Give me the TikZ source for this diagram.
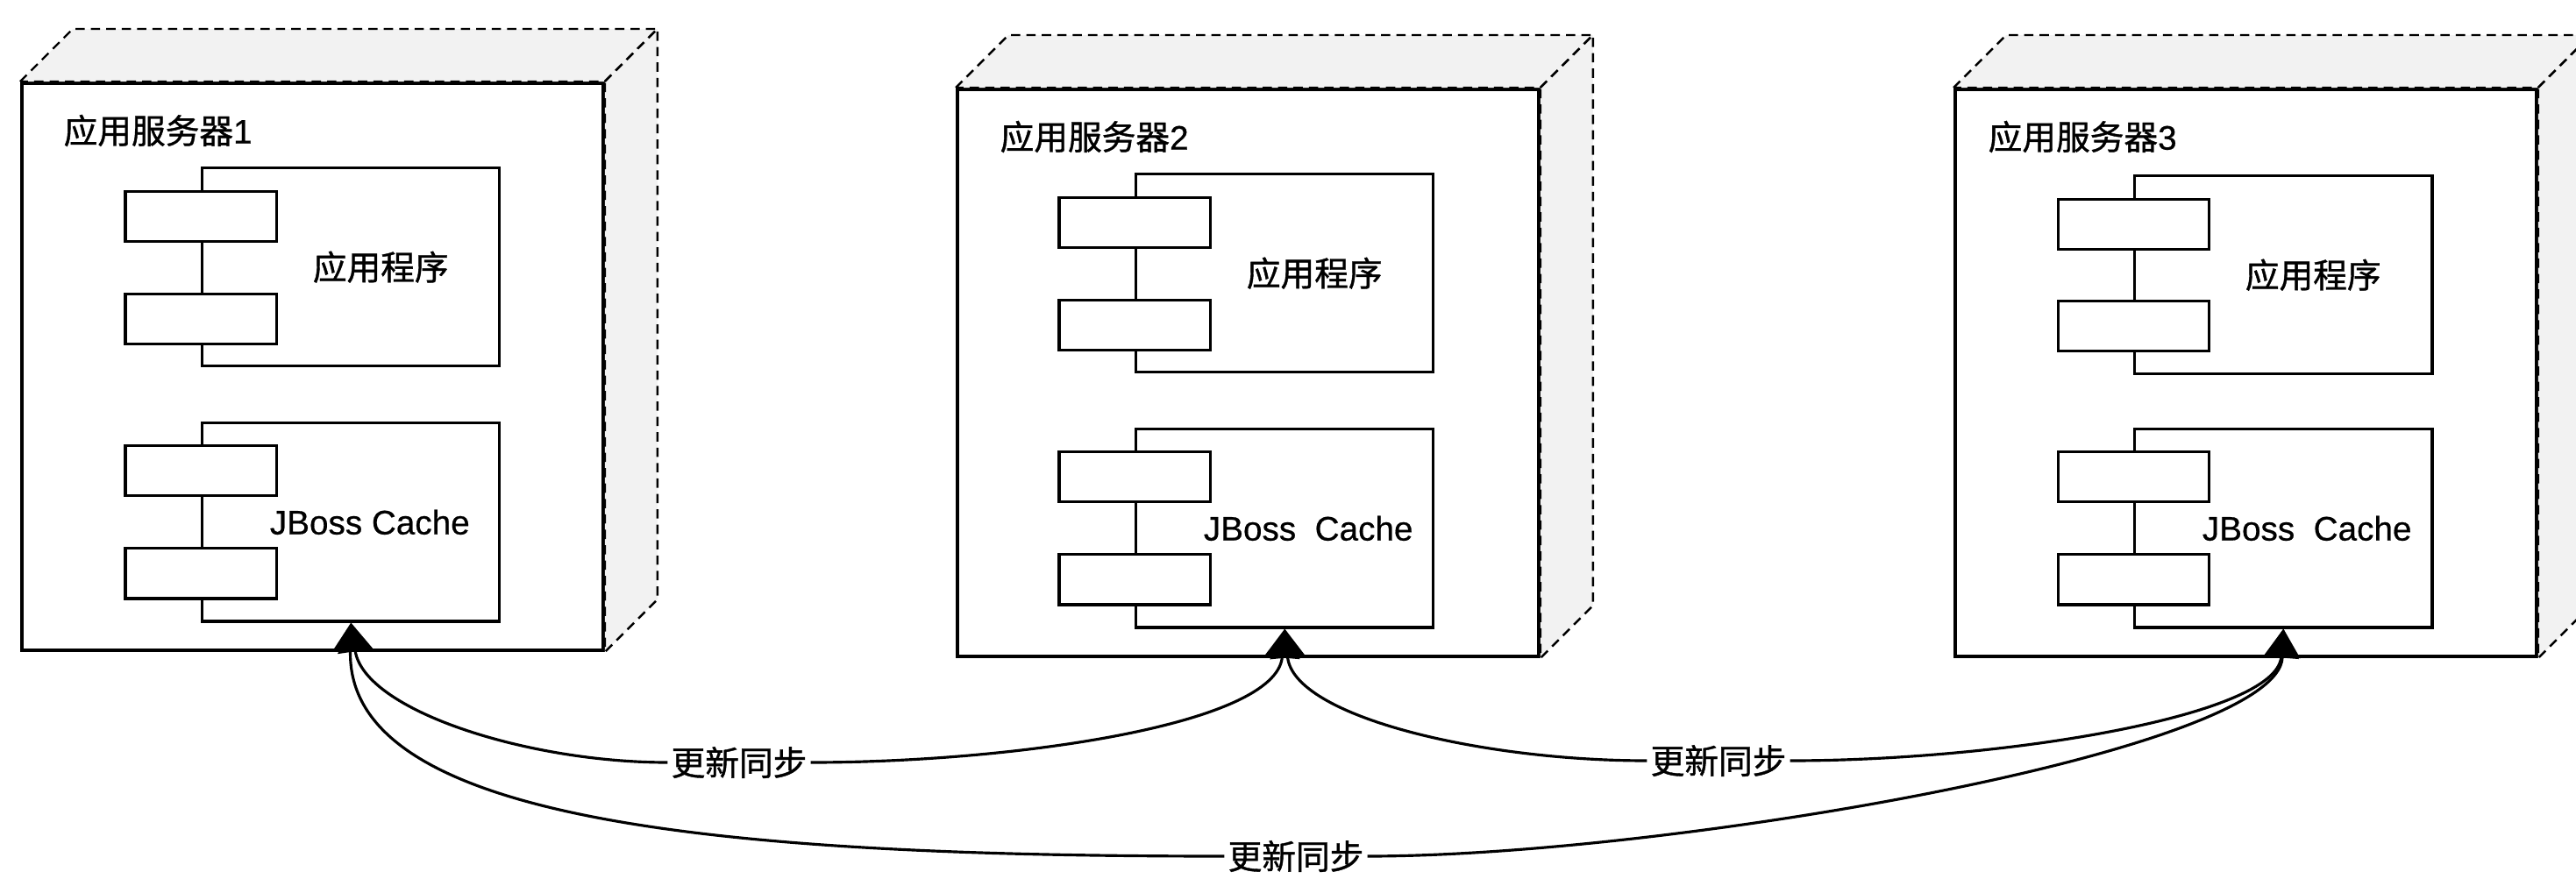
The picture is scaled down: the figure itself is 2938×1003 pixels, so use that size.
\documentclass[tikz,border=0pt]{standalone}
\usepackage{fontspec}
\setmainfont[FakeBold=0.5]{Liberation Sans}
\newfontfamily\cjk[FakeBold=1]{Noto Sans CJK SC}
\usepackage{tikz}
\usetikzlibrary{positioning,arrows.meta}

\tikzset{
  server/.style={draw,line width=1pt,fill=white,minimum width=6.63cm,minimum height=6.47cm,inner sep=0pt,anchor=north west},
  side/.style={draw,line width=0.7pt,densely dashed,fill=gray!10},
  comp/.style={draw,line width=0.9pt,fill=white,minimum width=3.39cm,minimum height=2.26cm,inner sep=0pt},
  port/.style={draw,line width=0.9pt,fill=white,minimum width=1.72cm,minimum height=0.57cm,inner sep=0pt},
  txt/.style={font=\fontsize{11pt}{13pt}\selectfont,inner sep=0pt},
  synclabel/.style={txt,fill=white,inner sep=1pt},
  sync/.style={line width=0.9pt},
  syncin/.style={sync,{Triangle[length=0.33cm,width=0.4cm]}-},
  syncout/.style={sync,-{Triangle[length=0.33cm,width=0.4cm]}},
}

\begin{document}
\begin{tikzpicture}[x=0.01cm,y=-0.01cm]
\clip (0,0) rectangle (2938,1003);
% server 1
\node[server] (s1) at (23,93) {};
\draw[side] (s1.north west) -- ++(60,-60) -- ([shift={(60,-60)}]s1.north east) -- (s1.north east) -- cycle;
\draw[side] (s1.north east) -- ++(60,-60) -- ([shift={(60,-60)}]s1.south east) -- (s1.south east) -- cycle;
\node[txt,anchor=west] (t1) at ([shift={(49,56)}]s1.north west) {{\cjk 应用服务器}1};
\node[comp,below right=0.97cm and 2.06cm of s1.north west] (a1) {};
\node[port,below=0.27cm of a1.north west] (a1p) {};
\node[port,below=1.44cm of a1.north west] (a1q) {};
\node[txt,right=1.27cm of a1.west] (a1t) {\cjk 应用程序};
\node[comp,below right=3.88cm and 2.06cm of s1.north west] (j1) {};
\node[port,below=0.26cm of j1.north west] (j1p) {};
\node[port,below=1.43cm of j1.north west] (j1q) {};
\node[txt,right=0.78cm of j1.west] (j1t) {JBoss Cache};
% server 2
\node[server] (s2) at (1090,100) {};
\draw[side] (s2.north west) -- ++(60,-60) -- ([shift={(60,-60)}]s2.north east) -- (s2.north east) -- cycle;
\draw[side] (s2.north east) -- ++(60,-60) -- ([shift={(60,-60)}]s2.south east) -- (s2.south east) -- cycle;
\node[txt,anchor=west] (t2) at ([shift={(50,56)}]s2.north west) {{\cjk 应用服务器}2};
\node[comp,below right=0.97cm and 2.04cm of s2.north west] (a2) {};
\node[port,below=0.27cm of a2.north west] (a2p) {};
\node[port,below=1.44cm of a2.north west] (a2q) {};
\node[txt,right=1.27cm of a2.west] (a2t) {\cjk 应用程序};
\node[comp,below right=3.88cm and 2.04cm of s2.north west] (j2) {};
\node[port,below=0.26cm of j2.north west] (j2p) {};
\node[port,below=1.43cm of j2.north west] (j2q) {};
\node[txt,right=0.78cm of j2.west] (j2t) {JBoss\ \ Cache};
% server 3
\node[server] (s3) at (2228,100) {};
\draw[side] (s3.north west) -- ++(60,-60) -- ([shift={(60,-60)}]s3.north east) -- (s3.north east) -- cycle;
\draw[side] (s3.north east) -- ++(60,-60) -- ([shift={(60,-60)}]s3.south east) -- (s3.south east) -- cycle;
\node[txt,anchor=west] (t3) at ([shift={(39,56)}]s3.north west) {{\cjk 应用服务器}3};
\node[comp,below right=0.99cm and 2.05cm of s3.north west] (a3) {};
\node[port,below=0.27cm of a3.north west] (a3p) {};
\node[port,below=1.43cm of a3.north west] (a3q) {};
\node[txt,right=1.27cm of a3.west] (a3t) {\cjk 应用程序};
\node[comp,below right=3.88cm and 2.05cm of s3.north west] (j3) {};
\node[port,below=0.26cm of j3.north west] (j3p) {};
\node[port,below=1.43cm of j3.north west] (j3q) {};
\node[txt,right=0.78cm of j3.west] (j3t) {JBoss\ \ Cache};
% sync labels
\node[synclabel] (u1) at (843,870) {\cjk 更新同步};
\node[synclabel] (u2) at (1960,868) {\cjk 更新同步};
\node[synclabel] (u3) at (1478,977) {\cjk 更新同步};
% sync curves
\draw[syncin] (j1.south) .. controls +(15,100) and +(-160,0) .. (u1.west);
\draw[syncout] (u1.east) .. controls +(228,0) and +(-10,110) .. (j2.south);
\draw[syncin] (j2.south) .. controls +(10,100) and +(-190,0) .. (u2.west);
\draw[syncout] (u2.east) .. controls +(240,0) and +(-8,100) .. (j3.south);
\draw[syncin] (j1.south) .. controls +(-5,223) and +(-596,0) .. (u3.west);
\draw[syncout] (u3.east) .. controls +(340,0) and +(-5,140) .. (j3.south);
\end{tikzpicture}
\end{document}
